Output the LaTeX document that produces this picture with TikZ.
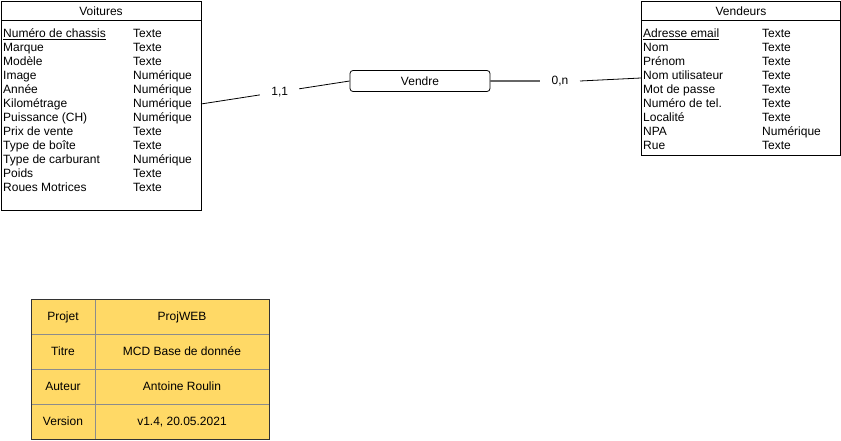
\documentclass[tikz,border=0pt]{standalone}
\usepackage{fontspec}
\setmainfont{Liberation Sans}
\definecolor{tabfill}{HTML}{FFD966}
\definecolor{tabline}{HTML}{8C8C8C}
\definecolor{tabouter}{HTML}{333333}
\definecolor{linkgrey}{HTML}{666666}
\begin{document}
\begin{tikzpicture}[x=1pt,y=-1pt,
  txt/.style={font=\fontsize{12}{14}\selectfont, inner sep=0pt, anchor=base west},
  hdr/.style={font=\fontsize{12}{14}\selectfont, inner sep=0pt, anchor=base},
  card/.style={font=\fontsize{12}{14}\selectfont, fill=white, inner xsep=11pt, inner ysep=3pt},
  ent/.style={draw=black, line width=0.8pt},
  cell/.style={font=\fontsize{12}{14}\selectfont, inner sep=0pt, anchor=base}]
\useasboundingbox (0,0) rectangle (841,441);

% Voitures entity
\draw[ent] (1,1) rectangle (201,210);
\draw[ent] (1,20) -- (201,20);
\coordinate (vwE) at (201,104);
\node[hdr] (vtitle) at (101,15.5) {Voitures};
\foreach \i/\a/\t in {0/{\underline{Numéro de chassis}}/Texte,1/Marque/Texte,2/Modèle/Texte,3/Image/Numérique,4/Année/Numérique,5/Kilométrage/Numérique,6/Puissance (CH)/Numérique,7/Prix de vente/Texte,8/Type de boîte/Texte,9/Type de carburant/Numérique,10/Poids/Texte,11/Roues Motrices/Texte}{
  \node[txt] (va\i) at (3,37.5+14*\i) {\a};
  \node[txt] (vt\i) at (133,37.5+14*\i) {\t};
}

% Vendeurs entity
\draw[ent] (641,1) rectangle (840,155);
\draw[ent] (641,20) -- (840,20);
\coordinate (vdW) at (641,78);
\node[hdr] (vdtitle) at (741,15.5) {Vendeurs};
\foreach \i/\a/\t in {0/{\underline{Adresse email}}/Texte,1/Nom/Texte,2/Prénom/Texte,3/Nom utilisateur/Texte,4/Mot de passe/Texte,5/Numéro de tel./Texte,6/Localité/Texte,7/NPA/Numérique,8/Rue/Texte}{
  \node[txt] (da\i) at (643,37.5+14*\i) {\a};
  \node[txt] (dt\i) at (762,37.5+14*\i) {\t};
}

% Vendre association
\node[draw=black, line width=0.8pt, rounded corners=3pt, minimum width=140pt, minimum height=21pt,
      font=\fontsize{12}{14}\selectfont, inner sep=0pt] (vendre) at (420,81) {Vendre};

% connectors
\draw[black, line width=0.8pt] (vwE) -- node[card, pos=0.53] (c11) {1,1} (vendre.west);
\draw[linkgrey, line width=1.4pt] (vendre.east) -- (540,81);
\node[card, fill=none] (c0n) at (560,81) {0,n};
\draw[black, line width=0.8pt] (580,81) -- (vdW);

% info table
\fill[tabfill] (31,299) rectangle (269,439);
\foreach \y in {334,369,404} { \draw[tabline, line width=0.8pt] (31,\y) -- (269,\y); }
\draw[tabline, line width=0.8pt] (95,299) -- (95,439);
\draw[tabouter, line width=1pt] (31,299) rectangle (269,439);
\foreach \i/\k/\v in {0/Projet/ProjWEB,1/Titre/MCD Base de donnée,2/Auteur/Antoine Roulin,3/Version/{v1.4, 20.05.2021}}{
  \node[cell] (tk\i) at (63,320.5+35*\i) {\k};
  \node[cell] (tv\i) at (182,320.5+35*\i) {\v};
}
\end{tikzpicture}
\end{document}
